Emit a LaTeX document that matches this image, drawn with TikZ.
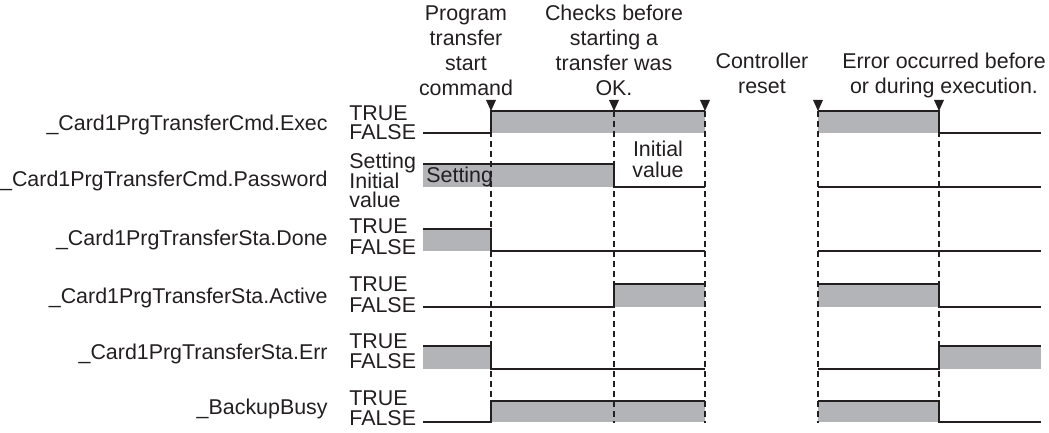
\documentclass[tikz,border=0pt]{standalone}
\usepackage{fontspec}
\setmainfont{Liberation Sans}
\usepackage{xcolor}
\usetikzlibrary{positioning}
\definecolor{sigfill}{RGB}{179,180,183}
\definecolor{ink}{RGB}{35,31,32}

\begin{document}
\begin{tikzpicture}[
  x=0.5pt, y=-0.5pt,
  every node/.style={inner sep=0pt, text=ink, font=\fontsize{10.7}{10.5}\selectfont},
  signame/.style={anchor=base east},
  level/.style={anchor=base west},
  note/.style={anchor=north, align=center, font=\fontsize{10.7}{12.5}\selectfont},
  wave/.style={line width=1.35pt, draw=ink},
  high/.style={fill=sigfill},
  guide/.style={line width=0.85pt, draw=ink, dash pattern=on 3pt off 2pt},
  trig/.style={fill=ink}
]
\useasboundingbox (0,0) rectangle (1049,433);

\node[note] (c1) at (466, 5) {Program\\transfer\\start\\command};
\node[note] (c2) at (614, 5) {Checks before\\starting a\\transfer was\\OK.};
\node[note] (c3) at (762, 53) {Controller\\reset};
\node[note] (c4) at (944, 53) {Error occurred before\\or during execution.};

\node[signame] (s1) at (328, 131) {\_Card1PrgTransferCmd.Exec};
\node[signame] (s2) at (328, 186) {\_Card1PrgTransferCmd.Password};
\node[signame] (s3) at (328, 245) {\_Card1PrgTransferSta.Done};
\node[signame] (s4) at (328, 303) {\_Card1PrgTransferSta.Active};
\node[signame] (s5) at (328, 359) {\_Card1PrgTransferSta.Err};
\node[signame] (s6) at (328, 414) {\_BackupBusy};

\node[level] (s1t) at (349, 120) {TRUE};
\node[level] (s1f) at (349, 140) {FALSE};
\node[level] (s2t) at (349, 169) {Setting};
\node[level] (s2f) at (349, 188) {Initial};
\node[level] (s2v) at (349, 207) {value};
\node[level] (s3t) at (349, 233) {TRUE};
\node[level] (s3f) at (349, 254) {FALSE};
\node[level] (s4t) at (349, 291) {TRUE};
\node[level] (s4f) at (349, 312) {FALSE};
\node[level] (s5t) at (349, 348) {TRUE};
\node[level] (s5f) at (349, 368) {FALSE};
\node[level] (s6t) at (349, 405) {TRUE};
\node[level] (s6f) at (349, 425) {FALSE};

\fill[high] (491,111) rectangle (705,133);
\fill[high] (818,111) rectangle (939,133);
\fill[high] (423,164) rectangle (614,187);
\fill[high] (423,229) rectangle (491,251);
\fill[high] (614,284) rectangle (705,307);
\fill[high] (818,284) rectangle (939,307);
\fill[high] (423,346) rectangle (491,369);
\fill[high] (939,346) rectangle (1041,369);
\fill[high] (491,401) rectangle (705,422);
\fill[high] (818,401) rectangle (939,422);

\node[level] (p1) at (426, 183) {Setting};
\node[anchor=north, align=center] (p2) at (658, 141) {Initial\\value};

\draw[guide] (491,111) -- (491,423);
\draw[guide] (614,111) -- (614,423);
\draw[guide] (705,111) -- (705,423);
\draw[guide] (818,111) -- (818,423);
\draw[guide] (939,111) -- (939,423);

\draw[wave] (423,133) -- (491,133) -- (491,111) -- (705,111);
\draw[wave] (818,111) -- (939,111) -- (939,133) -- (1041,133);
\draw[wave] (423,164) -- (614,164) -- (614,187) -- (705,187);
\draw[wave] (818,187) -- (1041,187);
\draw[wave] (423,229) -- (491,229) -- (491,251) -- (705,251);
\draw[wave] (818,251) -- (1041,251);
\draw[wave] (423,307) -- (614,307) -- (614,284) -- (705,284);
\draw[wave] (818,284) -- (939,284) -- (939,307) -- (1041,307);
\draw[wave] (423,346) -- (491,346) -- (491,369) -- (705,369);
\draw[wave] (818,369) -- (939,369) -- (939,346) -- (1041,346);
\draw[wave] (423,422) -- (491,422) -- (491,401) -- (705,401);
\draw[wave] (818,401) -- (939,401) -- (939,422) -- (1041,422);

\fill[trig] (486,100) -- (496,100) -- (491,111) -- cycle;
\fill[trig] (609,100) -- (619,100) -- (614,111) -- cycle;
\fill[trig] (700,100) -- (710,100) -- (705,111) -- cycle;
\fill[trig] (813,100) -- (823,100) -- (818,111) -- cycle;
\fill[trig] (934,100) -- (944,100) -- (939,111) -- cycle;
\end{tikzpicture}
\end{document}
